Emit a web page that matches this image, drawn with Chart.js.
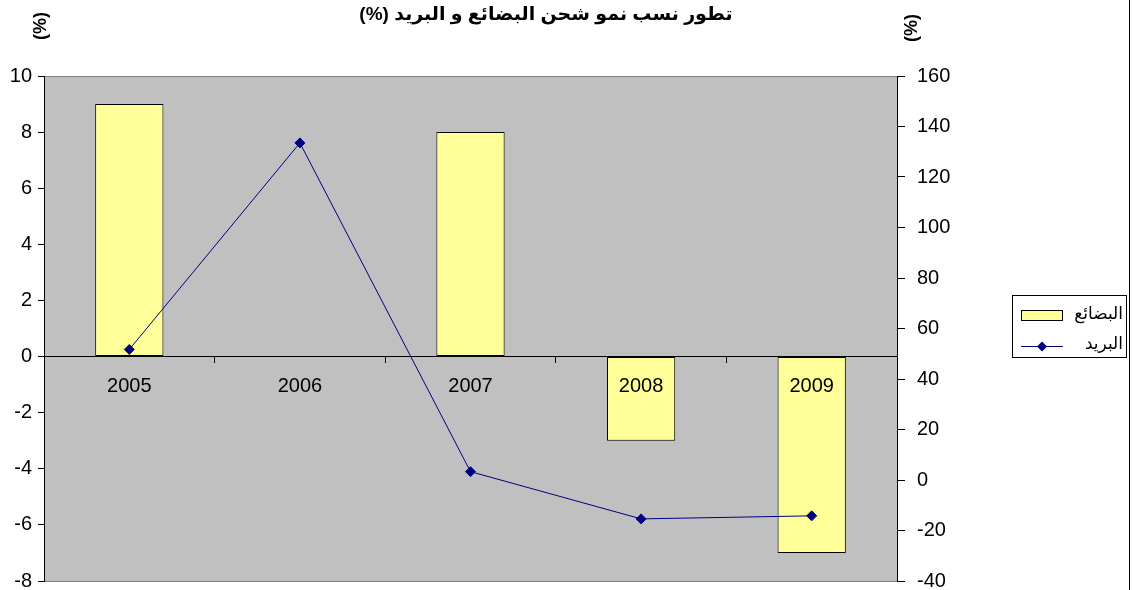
<!DOCTYPE html>
<html>
<head>
<meta charset="utf-8">
<script src="https://cdn.jsdelivr.net/npm/chart.js@4.4.1/dist/chart.umd.min.js"></script>
<style>
  html, body { margin: 0; padding: 0; background: #fff; }
  #c { display: block; }
</style>
</head>
<body>
<canvas id="c" width="1133" height="590"></canvas>
<script>
// values
const years = ['2005', '2006', '2007', '2008', '2009'];
const goodsGrowth = [9, 0, 8, -3, -7];                 // البضائع, left axis
const mailGrowth = [51.7, 133.5, 3.3, -15.4, -14.2];    // البريد, right axis
const goodsTicks = [-8, -6, -4, -2, 0, 2, 4, 6, 8, 10];
const mailTicks = [-40, -20, 0, 20, 40, 60, 80, 100, 120, 140, 160];

const titleText = 'تطور نسب نمو شحن البضائع و البريد (%)';
const FONT = '"Liberation Sans", "DejaVu Sans", Arial, sans-serif';

const setTicks = list => scale => { scale.ticks = list.map(v => ({ value: v })); };
// fixed axis width, and no extra room for half-labels at the ends
const fixWidth = w => s => { s.width = w; s.paddingTop = 0; s.paddingBottom = 0; };

// plot background, titles, legend box and outer frame
const decor = {
  id: 'decor',
  beforeDraw(chart) {
    const { ctx, chartArea: a } = chart;
    ctx.save();
    ctx.fillStyle = '#C0C0C0';
    ctx.fillRect(a.left, a.top, a.right - a.left, a.bottom - a.top);
    ctx.strokeStyle = '#808080';
    ctx.lineWidth = 1;
    ctx.strokeRect(a.left + 0.5, a.top + 0.5, a.right - a.left, a.bottom - a.top);
    ctx.restore();
  },
  afterDraw(chart) {
    const ctx = chart.ctx;
    ctx.save();
    ctx.fillStyle = '#000';

    // title
    ctx.direction = 'rtl';
    ctx.font = 'bold 19px ' + FONT;
    ctx.textAlign = 'center';
    ctx.textBaseline = 'middle';
    ctx.fillText(titleText, 546, 15);

    // "(%)" unit labels
    ctx.direction = 'ltr';
    ctx.font = 'bold 18px ' + FONT;
    [[41, 26], [912, 28]].forEach(([x, y]) => {
      ctx.save();
      ctx.translate(x, y);
      ctx.rotate(-Math.PI / 2);
      ctx.fillText('(%)', 0, 0);
      ctx.restore();
    });

    // legend
    const bars = chart.data.datasets[0];
    const line = chart.data.datasets[1];
    ctx.strokeStyle = '#000';
    ctx.lineWidth = 1;
    ctx.strokeRect(1012.5, 295.5, 114, 62);

    ctx.fillStyle = bars.backgroundColor;
    ctx.fillRect(1021.5, 310.5, 41, 10);
    ctx.strokeRect(1021.5, 310.5, 41, 10);

    ctx.strokeStyle = line.borderColor;
    ctx.beginPath();
    ctx.moveTo(1021, 346.5);
    ctx.lineTo(1063, 346.5);
    ctx.stroke();
    ctx.fillStyle = line.borderColor;
    ctx.beginPath();
    ctx.moveTo(1042, 341.5);
    ctx.lineTo(1047, 346.5);
    ctx.lineTo(1042, 351.5);
    ctx.lineTo(1037, 346.5);
    ctx.closePath();
    ctx.fill();

    ctx.fillStyle = '#000';
    ctx.direction = 'rtl';
    ctx.font = '17px ' + FONT;
    ctx.textAlign = 'right';
    ctx.fillText(bars.label, 1123, 314);
    ctx.fillText(line.label, 1123, 344);

    // outer frame edge
    ctx.strokeStyle = '#000';
    ctx.beginPath();
    ctx.moveTo(1129.5, 0);
    ctx.lineTo(1129.5, 590);
    ctx.stroke();
    ctx.restore();
  }
};

new Chart(document.getElementById('c'), {
  type: 'bar',
  data: {
    labels: years,
    datasets: [
      {
        type: 'bar',
        label: 'البضائع',
        data: goodsGrowth,
        backgroundColor: '#FFFF99',
        borderColor: '#000',
        borderWidth: 1,
        borderSkipped: false,
        barPercentage: 0.4,
        categoryPercentage: 1,
        yAxisID: 'y',
        order: 1
      },
      {
        type: 'line',
        label: 'البريد',
        data: mailGrowth,
        borderColor: '#000080',
        backgroundColor: '#000080',
        borderWidth: 1,
        pointStyle: 'rectRot',
        pointRadius: 5,
        pointBackgroundColor: '#000080',
        pointBorderColor: '#000080',
        tension: 0,
        yAxisID: 'y2',
        order: 0
      }
    ]
  },
  options: {
    responsive: false,
    animation: false,
    devicePixelRatio: 1,
    layout: { padding: { top: 76, left: 0, right: 0, bottom: 9 } },
    plugins: {
      legend: { display: false },
      title: { display: false },
      tooltip: { enabled: false }
    },
    scales: {
      x: {
        type: 'category',
        position: { y: 0 },
        offset: true,
        grid: { offset: true, drawOnChartArea: false, tickLength: 6, color: '#000', z: 1 },
        border: { color: '#000', z: 1 },
        ticks: { color: '#000', font: { family: FONT, size: 20 }, padding: 12, maxRotation: 0, autoSkip: false, z: 1 }
      },
      y: {
        position: 'left',
        min: goodsTicks[0],
        max: goodsTicks[goodsTicks.length - 1],
        afterBuildTicks: setTicks(goodsTicks),
        afterFit: fixWidth(44),
        grid: { drawOnChartArea: false, tickLength: 6, color: '#000' },
        border: { color: '#000' },
        ticks: { color: '#000', font: { family: FONT, size: 20 }, padding: 6 }
      },
      y2: {
        position: 'right',
        min: mailTicks[0],
        max: mailTicks[mailTicks.length - 1],
        afterBuildTicks: setTicks(mailTicks),
        afterFit: fixWidth(236),
        grid: { drawOnChartArea: false, tickLength: 8, color: '#000' },
        border: { color: '#000' },
        ticks: { color: '#000', font: { family: FONT, size: 20 }, padding: 12 }
      }
    }
  },
  plugins: [decor]
});
</script>
</body>
</html>
